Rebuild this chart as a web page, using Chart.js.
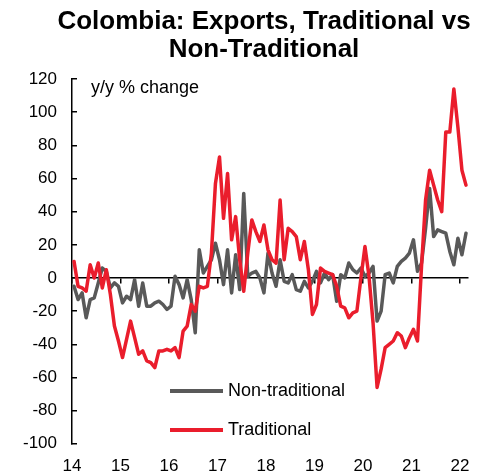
<!DOCTYPE html>
<html>
<head>
<meta charset="utf-8">
<script src="https://cdn.jsdelivr.net/npm/chart.js@4.4.1/dist/chart.umd.min.js"></script>
<style>
  html, body { margin: 0; padding: 0; background: #fff; }
  #wrap { width: 484px; height: 474px; }
</style>
</head>
<body>
<div id="wrap"><canvas id="c" width="484" height="474"></canvas></div>
<script>
// Colombia exports, y/y % change, monthly Jan 2014 - Feb 2022
const titleLines = ['Colombia: Exports, Traditional vs', 'Non-Traditional'];
const unitLabel = 'y/y % change';
const yearLabels = ['14', '15', '16', '17', '18', '19', '20', '21', '22'];
const seriesNames = ['Non-traditional', 'Traditional'];

const nonTraditional = [
  -5, -13, -9, -24, -13, -12, -3, 6, 4, -6, -3, -5,
  -15, -11, -13, -1, -17, -3, -17, -17, -15, -14, -16, -19,
  -17, 1, -4, -12, -1, -13, -33, 17, 3, 7, 11, 21,
  11, -4, 17, -9, 14, -7, 51, 1, 3, 4, 0, -9,
  15, 3, -5, 11, -2, -3, 2, -7, -8, -2, -6, -2,
  4, -3, 3, -1, 2, -14, 2, 0, 9, 5, 3, 6,
  1, 3, 7, -26, -20, 2, 3, -3, 7, 10, 12, 15,
  23, 4, 9, 30, 54, 25, 29, 28, 27, 16, 8, 24,
  14, 27
];
const traditional = [
  10, -5, -6, -8, 8, 0, 9, -6, 5, -10, -29, -38,
  -48, -37, -26, -36, -46, -44, -50, -51, -54, -44, -44, -43,
  -44, -42, -48, -32, -29, -16, -20, -5, -6, -5, 15, 57,
  73, 36, 63, 23, 37, 11, -8, 15, 35, 28, 22, 32,
  17, 11, 9, 47, 11, 30, 28, 25, 11, 22, 5, -22,
  -16, 6, 4, 3, 2, -5, -17, -18, -24, -21, -20, 0,
  19, 1, -27, -66, -55, -42, -40, -38, -33, -35, -42, -36,
  -31, -38, 7, 47, 65, 56, 47, 40, 88, 88, 114, 91,
  65, 56
];

const GREY = '#595959';
const RED = '#EA1D2C';
const FONT = 'Liberation Sans, Arial, sans-serif';

// monthly points sit mid-month between the year ticks
const toPoints = arr => arr.map((v, i) => ({ x: i + 0.5, y: v }));
const yearTicks = s => { s.ticks = yearLabels.map((_, k) => ({ value: k * 12 })); };

const annotations = {
  id: 'annotations',
  afterDatasetsDraw(chart) {
    const { ctx, chartArea: a } = chart;
    ctx.save();
    ctx.fillStyle = '#000';
    ctx.textBaseline = 'middle';

    // two-line title, a bit right of the canvas centre like the original
    ctx.font = 'bold 26px ' + FONT;
    ctx.textAlign = 'center';
    titleLines.forEach((t, k) => ctx.fillText(t, 264, 22 + k * 28));

    ctx.font = '18px ' + FONT;
    ctx.textAlign = 'left';
    ctx.fillText(unitLabel, a.left + 19, a.top + 9);

    // legend inside the plot, bottom middle
    chart.data.datasets.forEach((ds, k) => {
      const y = a.top + 312 + k * 39;
      ctx.strokeStyle = ds.borderColor;
      ctx.lineWidth = 4;
      ctx.beginPath();
      ctx.moveTo(a.left + 98, y);
      ctx.lineTo(a.left + 151, y);
      ctx.stroke();
      ctx.fillText(ds.label, a.left + 156, y);
    });
    ctx.restore();
  }
};

new Chart(document.getElementById('c'), {
  type: 'line',
  data: {
    datasets: [
      { label: seriesNames[0], data: toPoints(nonTraditional), borderColor: GREY, borderWidth: 3.5, order: 1 },
      { label: seriesNames[1], data: toPoints(traditional), borderColor: RED, borderWidth: 3.5, order: 0 }
    ]
  },
  options: {
    responsive: false,
    animation: false,
    layout: { padding: { left: 0, right: 16, top: 79, bottom: 0 } },
    elements: { point: { radius: 0 }, line: { tension: 0, borderJoinStyle: 'round', borderCapStyle: 'round' } },
    plugins: {
      legend: { display: false },
      tooltip: { enabled: false },
      title: { display: false }
    },
    scales: {
      x: {
        type: 'linear', min: 0, max: 98, position: 'bottom',
        afterBuildTicks: yearTicks,
        afterFit: s => { s.height = 28; },
        grid: { display: false, drawTicks: false },
        border: { display: false },
        ticks: { color: '#000', font: { family: FONT, size: 17 }, padding: 12, maxRotation: 0,
          callback: v => yearLabels[v / 12] }
      },
      x2: {
        type: 'linear', min: 0, max: 98, position: { y: 0 },
        afterBuildTicks: yearTicks,
        grid: { drawOnChartArea: false, drawTicks: true, tickLength: 5, color: '#000', lineWidth: 1.5 },
        border: { display: true, color: '#000', width: 1.5 },
        ticks: { display: false }
      },
      y: {
        min: -100, max: 120,
        afterFit: s => { s.width = 72; },
        grid: { drawOnChartArea: false, drawTicks: true, tickLength: -5, color: '#000', lineWidth: 1.5 },
        border: { display: true, color: '#000', width: 1.5 },
        ticks: { stepSize: 20, color: '#000', font: { family: FONT, size: 17 }, padding: 20 }
      }
    }
  },
  plugins: [annotations]
});
</script>
</body>
</html>
